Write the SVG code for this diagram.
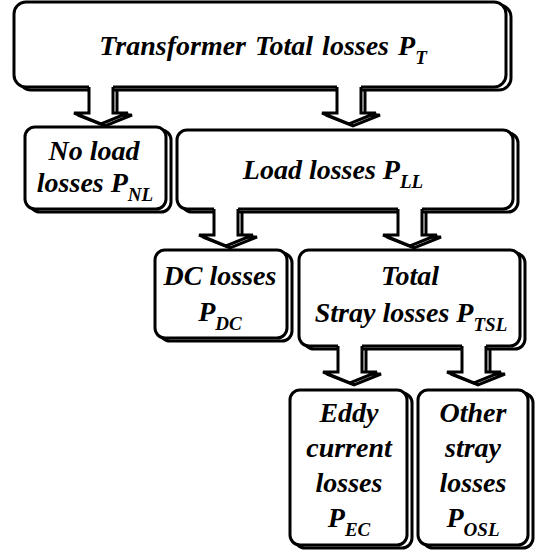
<svg xmlns="http://www.w3.org/2000/svg" width="540" height="551" viewBox="0 0 540 551">
<style>
.sh{fill:none;stroke:#000;stroke-width:3}
.bx{fill:#fff;stroke:#000;stroke-width:3}
.af{fill:#fff;stroke:none}
.ao{fill:none;stroke:#000;stroke-width:3;stroke-linejoin:miter}
text{font-family:'Liberation Serif','Times New Roman',serif;font-weight:700;font-style:italic;font-size:28px;fill:#000;text-anchor:middle}
.s{font-size:19px}
</style>
<defs>
<path id="arrowOutline" d="M-12,0 V26 H-27 L0,37 L27,26 H12 V0"/>
<path id="arrowFill" d="M-12,-3 V26 H-27 L0,37 L27,26 H12 V-3 Z"/>
</defs>
<rect width="540" height="551" fill="#fff"/>

<g id="n-total">
<rect class="sh" x="19" y="5" width="492" height="85" rx="12"/>
<rect class="bx" x="14" y="2" width="492" height="85" rx="12"/>
<text x="263" y="55" word-spacing="2">Transformer Total losses P<tspan class="s" dy="9">T</tspan></text>
</g>
<g id="n-noload">
<rect class="sh" x="30" y="130" width="141" height="82" rx="10"/>
<rect class="bx" x="25" y="127" width="141" height="82" rx="10"/>
<text x="94" y="160">No load</text>
<text x="95" y="192">losses P<tspan class="s" dy="9">NL</tspan></text>
</g>
<g id="n-load">
<rect class="sh" x="182" y="133" width="336" height="79" rx="10"/>
<rect class="bx" x="177" y="130" width="336" height="79" rx="10"/>
<text x="333" y="179">Load losses P<tspan class="s" dy="9">LL</tspan></text>
</g>
<g id="n-dc">
<rect class="sh" x="160" y="253" width="132" height="88" rx="10"/>
<rect class="bx" x="155" y="250" width="132" height="88" rx="10"/>
<text x="220" y="285">DC losses</text>
<text x="220" y="321">P<tspan class="s" dy="9">DC</tspan></text>
</g>
<g id="n-tsl">
<rect class="sh" x="304" y="253" width="221" height="96" rx="10"/>
<rect class="bx" x="299" y="250" width="221" height="96" rx="10"/>
<text x="410" y="285">Total</text>
<text x="411" y="322">Stray losses P<tspan class="s" dy="9">TSL</tspan></text>
</g>
<g id="n-eddy">
<rect class="sh" x="295" y="393" width="117" height="155" rx="10"/>
<rect class="bx" x="290" y="390" width="117" height="155" rx="10"/>
<text x="349" y="422">Eddy</text>
<text x="349" y="457">current</text>
<text x="349" y="492">losses</text>
<text x="349" y="527">P<tspan class="s" dy="9">EC</tspan></text>
</g>
<g id="n-other">
<rect class="sh" x="423" y="393" width="110" height="155" rx="10"/>
<rect class="bx" x="418" y="390" width="110" height="155" rx="10"/>
<text x="473" y="422">Other</text>
<text x="473" y="457">stray</text>
<text x="473" y="492">losses</text>
<text x="473" y="527">P<tspan class="s" dy="9">OSL</tspan></text>
</g>

<g id="connectors">
<g transform="translate(101,87)">
<use href="#arrowOutline" class="ao" transform="translate(4,2)"/>
<use href="#arrowFill" class="af"/>
<use href="#arrowOutline" class="ao"/>
</g>
<g transform="translate(349,87)">
<use href="#arrowOutline" class="ao" transform="translate(4,2)"/>
<use href="#arrowFill" class="af"/>
<use href="#arrowOutline" class="ao"/>
</g>
<g transform="translate(226,209)">
<use href="#arrowOutline" class="ao" transform="translate(4,2)"/>
<use href="#arrowFill" class="af"/>
<use href="#arrowOutline" class="ao"/>
</g>
<g transform="translate(410,209)">
<use href="#arrowOutline" class="ao" transform="translate(4,2)"/>
<use href="#arrowFill" class="af"/>
<use href="#arrowOutline" class="ao"/>
</g>
<g transform="translate(350,346)">
<use href="#arrowOutline" class="ao" transform="translate(4,2)"/>
<use href="#arrowFill" class="af"/>
<use href="#arrowOutline" class="ao"/>
</g>
<g transform="translate(474,346)">
<use href="#arrowOutline" class="ao" transform="translate(4,2)"/>
<use href="#arrowFill" class="af"/>
<use href="#arrowOutline" class="ao"/>
</g>
</g>
</svg>
